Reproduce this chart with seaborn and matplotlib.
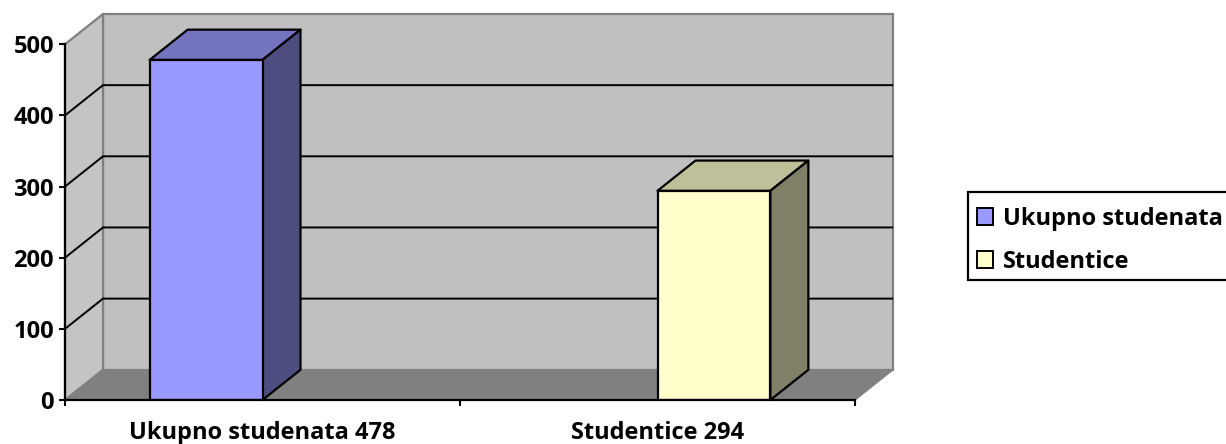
import matplotlib
matplotlib.use("Agg")
import matplotlib.pyplot as plt
import pandas as pd
import seaborn as sns
from matplotlib.patches import Polygon, Rectangle

categories = ["Ukupno studenata 478", "Studentice 294"]
series = ["Ukupno studenata", "Studentice"]
values = [478, 294]
y_ticks = [0, 100, 200, 300, 400, 500]
front_colors = ["#9999FF", "#FFFFCC"]
top_colors = ["#7373BF", "#BFBF99"]
side_colors = ["#4D4D80", "#808066"]

W, H = 1226, 444
DX = 38 / 395      # depth of the 3D box, in category units
DY = 42.5          # depth of the 3D box, in value units
XMIN, XMAX = -0.5, 1.5
YMAX = 500
FS = 17

sns.set_theme(style="white", rc={"font.family": ["Open Sans", "DejaVu Sans"]})
fig = plt.figure(figsize=(W / 100, H / 100), dpi=100, facecolor="white")
ax = fig.add_axes([65 / W, (H - 400) / H, (893 - 65) / W, (400 - 14) / H])
ax.patch.set_visible(False)

df = pd.DataFrame({"kategorija": categories, "serija": series, "broj": values})
sns.barplot(data=df, x="kategorija", y="broj", hue="serija",
            hue_order=series, order=categories,
            palette=front_colors, dodge=True, width=4 / 7, gap=0,
            edgecolor="black", linewidth=1.6, saturation=1, ax=ax, zorder=4)
bars = [p for p in ax.patches if p.get_height() > 0]

ax.set_xlim(XMIN, XMAX + DX)
ax.set_ylim(0, YMAX + DY)

# Walls and floor
grey = "#808080"
ax.add_patch(Polygon([(XMIN + DX, DY), (XMAX + DX, DY), (XMAX + DX, YMAX + DY), (XMIN + DX, YMAX + DY)],
                     fc="#C0C0C0", ec=grey, lw=1.6, zorder=0.5, clip_on=False))
ax.add_patch(Polygon([(XMIN, 0), (XMIN + DX, DY), (XMIN + DX, YMAX + DY), (XMIN, YMAX)],
                     fc="#C4C4C4", ec=grey, lw=1.6, zorder=0.6, clip_on=False))
ax.add_patch(Polygon([(XMIN, 0), (XMAX, 0), (XMAX + DX, DY), (XMIN + DX, DY)],
                     fc=grey, ec=grey, lw=1.0, zorder=0.7, clip_on=False))

# Gridlines bend from the side wall onto the back wall
for v in y_ticks[1:-1]:
    ax.plot([XMIN, XMIN + DX, XMAX + DX], [v, v + DY, v + DY],
            color="black", lw=1.4, zorder=1, solid_joinstyle="miter")

# 3D faces built on the bars seaborn drew
for bar, tc, sc in zip(bars, top_colors, side_colors):
    x0, w, h = bar.get_x(), bar.get_width(), bar.get_height()
    x1 = x0 + w
    ax.add_patch(Polygon([(x0, h), (x1, h), (x1 + DX, h + DY), (x0 + DX, h + DY)],
                         fc=tc, ec="black", lw=1.6, zorder=3, joinstyle="round", clip_on=False))
    ax.add_patch(Polygon([(x1, 0), (x1 + DX, DY), (x1 + DX, h + DY), (x1, h)],
                         fc=sc, ec="black", lw=1.6, zorder=3, joinstyle="round", clip_on=False))

# Axes
for s in ["top", "right"]:
    ax.spines[s].set_visible(False)
for s in ["left", "bottom"]:
    ax.spines[s].set_color("black")
    ax.spines[s].set_linewidth(1.6)
    ax.spines[s].set_zorder(5)
ax.spines["left"].set_bounds(0, YMAX)
ax.spines["bottom"].set_bounds(XMIN, XMAX)

ax.set_xlabel("")
ax.set_ylabel("")
ax.set_yticks(y_ticks)
ax.set_xticks([0, 1])
ax.set_xticklabels(categories)
ax.set_xticks([XMIN, 0.5, XMAX], minor=True)
ax.tick_params(axis="y", which="major", left=True, length=4, width=1.5, color="black",
               labelsize=FS, labelcolor="black", pad=4)
ax.tick_params(axis="x", which="major", bottom=False, length=0, labelsize=FS,
               labelcolor="black", pad=15)
ax.tick_params(axis="x", which="minor", bottom=True, length=4, width=1.5, color="black")
for lab in ax.get_yticklabels() + ax.get_xticklabels():
    lab.set_fontweight("bold")
    lab.set_color("black")

# Legend frame runs off the canvas on the right, as in the reference
fig.add_artist(Rectangle((968 / W, (H - 280) / H), 270 / W, 88 / H, transform=fig.transFigure,
                         fc="white", ec="black", lw=1.6, zorder=-1))
sns.move_legend(ax, "upper left", bbox_to_anchor=(967 / W, (H - 197) / H),
                bbox_transform=fig.transFigure, title=None, frameon=False,
                borderpad=0.42, borderaxespad=0, handlelength=0.7, handleheight=0.7,
                handletextpad=0.42, labelspacing=0.79,
                prop={"weight": "bold", "size": FS})
leg = ax.get_legend()
leg.set_zorder(6)
for t in leg.get_texts():
    t.set_color("black")
for h in leg.legend_handles:
    h.set_edgecolor("black")
    h.set_linewidth(1.4)

fig.savefig("out.png", dpi=100, facecolor="white")
